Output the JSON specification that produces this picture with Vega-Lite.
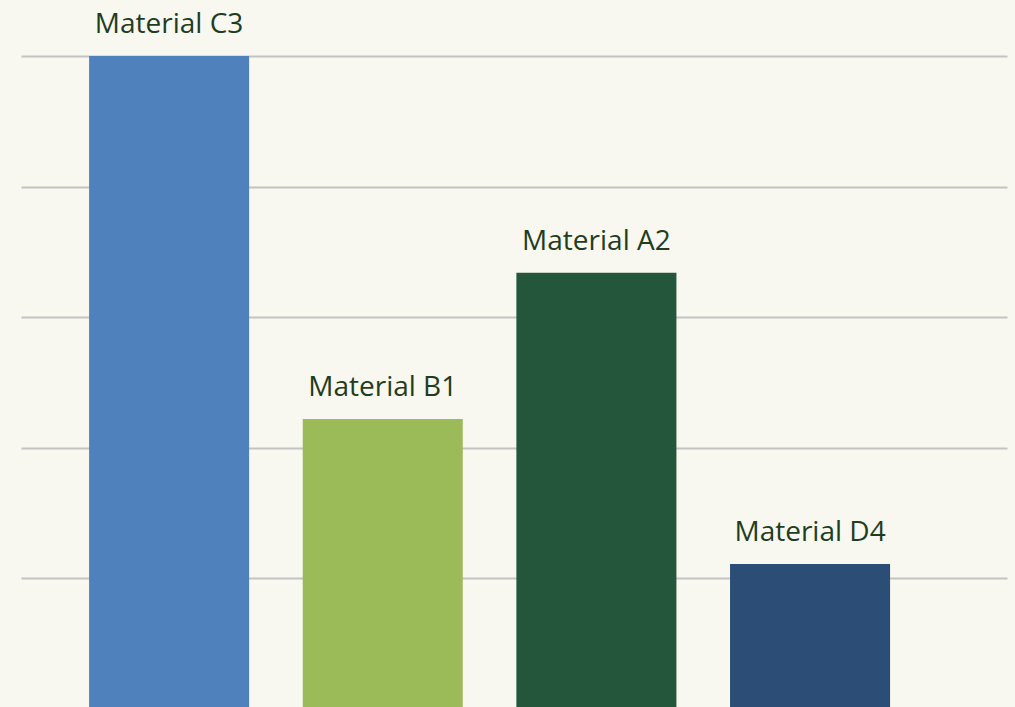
{
  "$schema": "https://vega.github.io/schema/vega-lite/v6.json",
  "autosize": "none",
  "width": 986,
  "height": 653,
  "padding": {"left": 21, "top": 56, "right": 8, "bottom": 0},
  "background": "#f8f7f0",
  "config": {"view": {"stroke": null}},
  "data": {"values": [
    {"material": "Material C3", "value": 5.0, "color": "#4f81bd"},
    {"material": "Material B1", "value": 2.22, "color": "#9bbb59"},
    {"material": "Material A2", "value": 3.34, "color": "#23563b"},
    {"material": "Material D4", "value": 1.11, "color": "#2c4d75"}
  ]},
  "encoding": {
    "x": {"field": "material", "type": "nominal", "sort": null,
          "scale": {"paddingInner": 0.251, "paddingOuter": 0.433, "align": 0.368},
          "axis": null},
    "y": {"field": "value", "type": "quantitative",
          "scale": {"domain": [0, 5], "nice": false},
          "axis": {"grid": true, "gridColor": "#c3c3c3", "gridWidth": 2, "values": [1, 2, 3, 4, 5],
                   "labels": false, "ticks": false, "domain": false, "title": null}}
  },
  "layer": [
    {"mark": {"type": "bar"},
     "encoding": {"color": {"field": "color", "type": "nominal", "scale": null}}},
    {"mark": {"type": "text", "baseline": "alphabetic", "dy": -23, "font": "Open Sans", "fontSize": 28, "color": "#1f3d21"},
     "encoding": {"text": {"field": "material"}}}
  ]
}
